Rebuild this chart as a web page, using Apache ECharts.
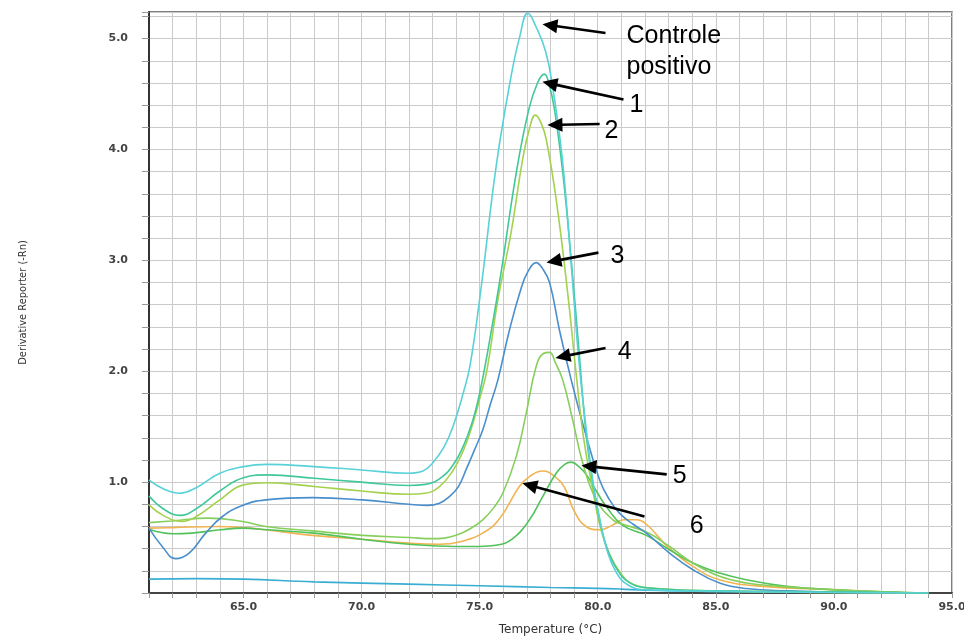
<!DOCTYPE html>
<html>
<head>
<meta charset="utf-8">
<script src="https://cdn.jsdelivr.net/npm/echarts@6/dist/echarts.min.js"></script>
<style>
  html, body { margin: 0; padding: 0; background: #fff; }
  #chart { width: 964px; height: 636px; }
</style>
</head>
<body>
<div id="chart"></div>
<script>
// curvas de melting (derivada), pares [temperatura, -Rn']
const controlePositivo = [[61,1.02],[61.6,0.94],[62.3,0.90],[63,0.95],[64,1.08],[65,1.14],[66,1.16],[68,1.14],[70,1.11],[72,1.08],[72.6,1.10],[73,1.17],[73.5,1.32],[73.9,1.52],[74.3,1.80],[74.6,2.06],[75.06,2.75],[75.7,3.85],[76.33,4.66],[76.7,5.02],[77.04,5.23],[77.4,5.10],[77.8,4.88],[78.1,4.55],[78.4,4.10],[78.6,3.70],[78.9,2.90],[79.2,2.10],[79.5,1.50],[79.8,1.00],[80.1,0.65],[80.4,0.38],[80.8,0.18],[81.3,0.07],[82,0.03],[85,0.015],[90,0.005],[94,0]]
const amostra1 = [[61,0.875],[61.6,0.76],[62.3,0.70],[63,0.76],[64,0.92],[65,1.04],[66,1.065],[68,1.035],[70,1.00],[72,0.97],[72.7,0.98],[73.3,1.03],[73.86,1.15],[74.3,1.32],[74.7,1.55],[75,1.80],[75.4,2.25],[75.9,2.88],[76.55,3.79],[77.08,4.36],[77.45,4.60],[77.74,4.68],[77.95,4.58],[78.17,4.36],[78.52,3.79],[78.9,2.95],[79.2,2.20],[79.5,1.45],[79.8,0.98],[80.1,0.64],[80.4,0.40],[80.8,0.22],[81.3,0.10],[82,0.05],[85,0.02],[90,0.01],[94,0]]
const amostra2 = [[61,0.795],[61.6,0.70],[62.4,0.645],[63,0.69],[64,0.84],[65,0.975],[66,0.995],[68,0.96],[70,0.92],[72,0.89],[72.7,0.90],[73.3,0.96],[73.86,1.10],[74.3,1.28],[74.7,1.52],[75,1.75],[75.3,2.00],[75.77,2.64],[76.33,3.25],[76.82,3.91],[77.1,4.18],[77.36,4.31],[77.6,4.24],[77.82,4.09],[78.24,3.55],[78.73,2.70],[79.1,1.95],[79.4,1.40],[79.8,0.92],[80.1,0.60],[80.5,0.35],[81,0.17],[81.5,0.08],[82.5,0.04],[86,0.015],[94,0]]
const amostra3 = [[61,0.585],[61.56,0.42],[62.13,0.31],[62.7,0.36],[63.4,0.54],[64.11,0.69],[64.96,0.79],[65.95,0.84],[67.92,0.86],[70.04,0.84],[72.02,0.80],[72.8,0.79],[73.3,0.81],[73.72,0.87],[74.1,0.96],[74.42,1.11],[74.8,1.30],[75.13,1.47],[75.45,1.70],[75.77,1.92],[76.26,2.37],[76.76,2.75],[77.05,2.90],[77.39,2.98],[77.65,2.93],[77.96,2.80],[78.38,2.37],[78.88,1.92],[79.44,1.47],[80.08,1.02],[80.5,0.84],[80.92,0.72],[81.5,0.62],[82.06,0.54],[83.04,0.36],[84.03,0.21],[85.16,0.09],[86.29,0.04],[88,0.02],[91,0.005],[94,0]]
const amostra4 = [[61,0.635],[62,0.65],[63.5,0.675],[64.96,0.645],[65.95,0.60],[67.92,0.56],[70.04,0.52],[72.02,0.50],[73,0.49],[73.5,0.495],[74,0.52],[74.6,0.58],[75.13,0.66],[75.6,0.77],[75.98,0.90],[76.55,1.23],[76.97,1.62],[77.39,2.04],[77.7,2.16],[77.96,2.17],[78.2,2.08],[78.52,1.92],[78.94,1.56],[79.37,1.17],[79.94,0.84],[80.64,0.66],[81.06,0.62],[82.06,0.55],[83.04,0.42],[84.03,0.27],[85.16,0.15],[86.29,0.09],[87.7,0.06],[89.1,0.04],[91,0.02],[93.5,0]]
const amostra5 = [[61,0.575],[62,0.535],[62.8,0.54],[64,0.57],[65,0.585],[66,0.57],[68,0.54],[70,0.485],[72,0.44],[74,0.42],[75,0.42],[75.7,0.43],[76.4,0.49],[77.11,0.66],[77.67,0.87],[78.24,1.08],[78.6,1.16],[78.88,1.18],[79.2,1.14],[79.51,1.07],[79.94,0.92],[80.36,0.78],[81.06,0.61],[82.06,0.52],[83.04,0.39],[84.03,0.27],[85.16,0.18],[86.29,0.12],[88,0.06],[90,0.03],[92,0.01],[94,0]]
const amostra6 = [[61,0.585],[62,0.59],[63.97,0.60],[64.96,0.59],[65.95,0.57],[67.92,0.52],[70.04,0.485],[72.02,0.45],[73.3,0.44],[74.14,0.46],[75.13,0.54],[75.84,0.67],[76.68,0.96],[77.11,1.05],[77.67,1.10],[78.24,1.04],[78.6,0.95],[79,0.74],[79.5,0.60],[80.1,0.57],[80.6,0.61],[81.1,0.66],[81.6,0.66],[82.06,0.62],[82.9,0.43],[84.03,0.24],[85.16,0.12],[87,0.06],[90,0.03],[92,0.01],[94,0]]
const branco = [[61,0.125],[63,0.13],[65,0.125],[68,0.10],[72,0.08],[75,0.065],[78,0.05],[80,0.042],[81,0.035],[82,0.025],[85,0.015],[90,0.005],[93,0]]

const curves = [branco, amostra6, amostra5, amostra4, amostra3, amostra2, amostra1, controlePositivo]
const curveNames = ['Branco', '6', '5', '4', '3', '2', '1', 'Controle positivo']
const curveColors = ['#3aaed2', '#f0b452', '#52c25a', '#86cf5c', '#4a8fcc', '#a4d24e', '#40c898', '#58d2d8']

// setas (coordenadas em temperatura / -Rn')
const arrowNotes = [
  { text: 'Controle\npositivo', tip: [77.66, 5.13], tail: [80.33, 5.05], label: [81.22, 4.88], align: 'left' },
  { text: '1', tip: [77.66, 4.61], tail: [81.09, 4.45], label: [81.64, 4.40], align: 'center' },
  { text: '2', tip: [77.87, 4.22], tail: [80.08, 4.23], label: [80.58, 4.17], align: 'center' },
  { text: '3', tip: [77.83, 2.98], tail: [80.03, 3.07], label: [80.84, 3.04], align: 'center' },
  { text: '4', tip: [78.21, 2.12], tail: [80.33, 2.21], label: [81.14, 2.17], align: 'center' },
  { text: '5', tip: [79.31, 1.15], tail: [82.92, 1.07], label: [83.47, 1.05], align: 'center' },
  { text: '6', tip: [76.81, 0.99], tail: [81.98, 0.69], label: [84.19, 0.60], align: 'center' }
]

const chart = echarts.init(document.getElementById('chart'))

const isWhole = v => Math.abs(v - Math.round(v)) < 1e-6

chart.setOption({
  animation: false,
  backgroundColor: '#fff',
  grid: {
    left: 149, right: 12, top: 12, bottom: 43,
    show: true, borderColor: '#555', borderWidth: 1.5,
    outerBoundsMode: 'none'
  },
  xAxis: {
    type: 'value', min: 61, max: 95, interval: 1,
    name: 'Temperature (°C)', nameLocation: 'middle', nameGap: 31,
    nameTextStyle: { fontFamily: 'DejaVu Sans', fontSize: 12, color: '#333' },
    axisLine: { show: true, lineStyle: { color: '#444', width: 2 } },
    axisTick: { show: true, length: 5, lineStyle: { color: '#999' } },
    axisLabel: {
      margin: 9, fontFamily: 'DejaVu Sans', fontSize: 11, fontWeight: 'bold', color: '#444',
      formatter: v => (isWhole(v) && Math.round(v) % 5 === 0) ? v.toFixed(1) : ''
    },
    splitLine: { show: true, lineStyle: { color: '#cacaca', width: 1 } }
  },
  yAxis: {
    type: 'value', min: 0, max: 5.24, interval: 0.2,
    name: 'Derivative Reporter (-Rn)', nameLocation: 'middle', nameGap: 120, nameRotate: 90,
    nameTextStyle: { fontFamily: 'DejaVu Sans Condensed, DejaVu Sans', fontSize: 11, color: '#333' },
    axisLine: { show: true, lineStyle: { color: '#333', width: 2 } },
    axisTick: { show: true, length: 7, lineStyle: { color: '#999' } },
    axisLabel: {
      margin: 21, fontFamily: 'DejaVu Sans', fontSize: 11, fontWeight: 'bold', color: '#444',
      formatter: v => (v > 0.5 && isWhole(v)) ? v.toFixed(1) : ''
    },
    splitLine: { show: true, lineStyle: { color: '#cacaca', width: 1 } }
  },
  series: curves.map((data, i) => ({
    name: curveNames[i],
    type: 'line',
    data: data,
    smooth: 0.45,
    symbol: 'none',
    lineStyle: { color: curveColors[i], width: 1.6 },
    itemStyle: { color: curveColors[i] }
  }))
})

// desenha as setas e os rótulos
function drawNotes() {
  const els = []
  arrowNotes.forEach(n => {
    const tip = chart.convertToPixel({ gridIndex: 0 }, n.tip)
    const tail = chart.convertToPixel({ gridIndex: 0 }, n.tail)
    const dx = tip[0] - tail[0], dy = tip[1] - tail[1]
    const len = Math.sqrt(dx * dx + dy * dy)
    const ux = dx / len, uy = dy / len
    const headLen = 15, headW = 7
    const bx = tip[0] - ux * headLen, by = tip[1] - uy * headLen
    els.push({
      type: 'line', z: 100,
      shape: { x1: tail[0], y1: tail[1], x2: bx + ux * 2, y2: by + uy * 2 },
      style: { stroke: '#000', lineWidth: 2.6 }
    })
    els.push({
      type: 'polygon', z: 100,
      shape: { points: [tip, [bx - uy * headW, by + ux * headW], [bx + uy * headW, by - ux * headW]] },
      style: { fill: '#000' }
    })
    const p = chart.convertToPixel({ gridIndex: 0 }, n.label)
    els.push({
      type: 'text', z: 100, x: p[0], y: p[1],
      style: {
        text: n.text, fill: '#000',
        font: '25px "Liberation Sans", Arial, sans-serif',
        align: n.align, verticalAlign: 'middle', lineHeight: 31
      }
    })
  })
  chart.setOption({ graphic: els })
}
drawNotes()
</script>
</body>
</html>
